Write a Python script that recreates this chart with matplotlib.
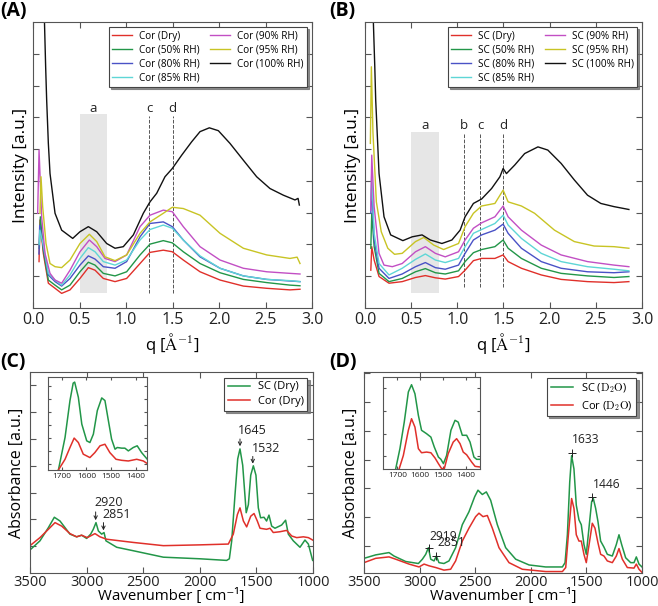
import matplotlib
matplotlib.use('Agg')
import matplotlib.pyplot as plt

plt.rcParams['font.family'] = ['Open Sans', 'DejaVu Sans']
plt.rcParams['mathtext.fontset'] = 'cm'

# colours for the humidity series
col = {'dry': '#e0302a', '50': '#229648', '80': '#4a52c6', '85': '#5ed6d6',
       '90': '#c24fc4', '95': '#c8c424', '100': '#111111'}

# ---------------- (A) corneocytes, SAXS ----------------
a_dry_q = [0.065, 0.075, 0.111, 0.165, 0.237, 0.308, 0.398, 0.505, 0.595, 0.667, 0.756, 0.882,
           1.007, 1.151, 1.258, 1.401, 1.498, 1.616, 1.796, 2.011, 2.262, 2.513, 2.763, 2.871]
a_dry_i = [1.46, 2.77, 1.72, 0.78, 0.62, 0.46, 0.57, 0.93, 1.27, 1.19, 0.93, 0.83,
           0.93, 1.40, 1.75, 1.82, 1.77, 1.51, 1.14, 0.88, 0.69, 0.62, 0.57, 0.59]
a_50_q = [0.068, 0.079, 0.111, 0.165, 0.237, 0.308, 0.398, 0.505, 0.595, 0.667, 0.756, 0.882,
          1.007, 1.151, 1.258, 1.401, 1.498, 1.616, 1.796, 2.011, 2.262, 2.513, 2.763, 2.871]
a_50_i = [1.88, 2.87, 1.82, 0.88, 0.72, 0.57, 0.72, 1.14, 1.44, 1.35, 1.09, 1.01,
          1.14, 1.67, 2.01, 2.12, 2.05, 1.77, 1.40, 1.11, 0.90, 0.80, 0.72, 0.70]
a_80_q = [0.064, 0.072, 0.111, 0.165, 0.237, 0.308, 0.398, 0.505, 0.595, 0.667, 0.756, 0.882,
          1.007, 1.151, 1.258, 1.401, 1.498, 1.616, 1.796, 2.011, 2.262, 2.513, 2.763, 2.871]
a_80_i = [1.70, 2.60, 1.93, 1.04, 0.83, 0.69, 0.93, 1.35, 1.64, 1.54, 1.30, 1.25,
          1.46, 2.24, 2.66, 2.71, 2.56, 2.14, 1.61, 1.25, 1.01, 0.90, 0.85, 0.83]
a_85_q = [0.066, 0.074, 0.111, 0.165, 0.237, 0.308, 0.398, 0.505, 0.595, 0.667, 0.756, 0.882,
          1.007, 1.151, 1.258, 1.401, 1.498, 1.616, 1.796, 2.011, 2.262, 2.513, 2.763, 2.871]
a_85_i = [2.00, 2.45, 1.98, 1.09, 0.88, 0.72, 1.04, 1.56, 1.90, 1.77, 1.46, 1.35,
          1.51, 2.14, 2.47, 2.61, 2.51, 2.14, 1.64, 1.25, 1.01, 0.90, 0.86, 0.83]
a_90_q = [0.050, 0.065, 0.093, 0.129, 0.183, 0.237, 0.308, 0.398, 0.505, 0.606, 0.685, 0.774, 0.882,
          1.007, 1.151, 1.258, 1.401, 1.498, 1.616, 1.796, 2.011, 2.262, 2.513, 2.763, 2.871]
a_90_i = [2.98, 4.97, 2.87, 1.72, 1.09, 0.88, 0.78, 1.19, 1.77, 2.14, 1.93, 1.56, 1.46,
          1.67, 2.56, 2.92, 3.08, 3.03, 2.56, 1.93, 1.51, 1.25, 1.14, 1.09, 1.07]
a_95_q = [0.075, 0.086, 0.104, 0.140, 0.183, 0.237, 0.308, 0.398, 0.505, 0.606, 0.685, 0.774, 0.882,
          1.007, 1.151, 1.258, 1.401, 1.498, 1.616, 1.796, 2.011, 2.262, 2.513, 2.763, 2.840, 2.871]
a_95_i = [2.98, 4.13, 3.19, 2.03, 1.40, 1.30, 1.27, 1.51, 2.03, 2.32, 2.09, 1.61, 1.49,
          1.67, 2.35, 2.71, 2.98, 3.17, 3.13, 2.92, 2.35, 1.88, 1.67, 1.56, 1.60, 1.40]
a_100_q = [0.118, 0.136, 0.147, 0.165, 0.183, 0.237, 0.308, 0.427, 0.505, 0.595, 0.685, 0.792, 0.882,
           0.971, 1.079, 1.186, 1.258, 1.330, 1.419, 1.498, 1.599, 1.706, 1.796, 1.896, 1.993,
           2.118, 2.262, 2.405, 2.548, 2.692, 2.817, 2.850, 2.864]
a_100_i = [9.6, 7.59, 6.54, 5.18, 4.23, 2.98, 2.45, 2.19, 2.40, 2.56, 2.40, 2.03, 1.88,
           1.93, 2.30, 2.98, 3.34, 3.61, 4.13, 4.39, 4.81, 5.23, 5.55, 5.67, 5.58,
           5.18, 4.65, 4.13, 3.76, 3.55, 3.40, 3.45, 3.24]

# ---------------- (B) SC, SAXS ----------------
b_q = [0.063, 0.073, 0.099, 0.152, 0.260, 0.403, 0.547, 0.654, 0.762, 0.869, 1.013, 1.084,
       1.174, 1.263, 1.407, 1.496, 1.550, 1.694, 1.909, 2.124, 2.410, 2.697, 2.858]
b_dry_i = [1.19, 1.93, 1.51, 0.99, 0.78, 0.83, 0.96, 1.02, 0.95, 0.91, 0.99, 1.19,
           1.49, 1.56, 1.56, 1.67, 1.46, 1.25, 1.04, 0.90, 0.83, 0.80, 0.83]
b_50_i = [1.88, 2.98, 1.93, 1.09, 0.83, 0.93, 1.14, 1.24, 1.11, 1.07, 1.17, 1.46,
          1.74, 1.84, 1.93, 2.14, 1.88, 1.56, 1.25, 1.09, 1.01, 0.96, 0.99]
b_80_i = [2.98, 3.82, 2.14, 1.25, 0.93, 1.07, 1.30, 1.43, 1.27, 1.22, 1.35, 1.72,
          2.14, 2.30, 2.45, 2.64, 2.35, 1.88, 1.46, 1.25, 1.14, 1.11, 1.14]
b_85_i = [3.40, 4.23, 2.35, 1.40, 1.04, 1.25, 1.53, 1.70, 1.51, 1.43, 1.56, 1.93,
          2.35, 2.47, 2.66, 2.92, 2.61, 2.19, 1.72, 1.46, 1.30, 1.22, 1.17]
b_90_q = [0.063, 0.073, 0.099, 0.152, 0.206, 0.296, 0.403, 0.547, 0.654, 0.762, 0.869, 1.013, 1.084,
          1.174, 1.263, 1.407, 1.496, 1.550, 1.694, 1.909, 2.124, 2.410, 2.697, 2.858]
b_90_i = [3.08, 4.81, 3.19, 1.72, 1.35, 1.30, 1.40, 1.77, 1.93, 1.72, 1.61, 1.77, 2.14,
          2.51, 2.68, 2.87, 3.21, 2.87, 2.45, 1.98, 1.67, 1.46, 1.35, 1.30]
b_95_q = [0.058, 0.069, 0.086, 0.123, 0.176, 0.247, 0.320, 0.403, 0.547, 0.636, 0.744, 0.851,
          1.013, 1.084, 1.174, 1.263, 1.407, 1.496, 1.550, 1.694, 1.837, 2.052, 2.267, 2.482,
          2.697, 2.858]
b_95_i = [5.18, 7.59, 5.54, 3.34, 2.40, 1.88, 1.69, 1.72, 2.09, 2.22, 1.98, 1.84,
          2.03, 2.56, 2.98, 3.21, 3.29, 3.71, 3.34, 3.21, 2.98, 2.45, 2.09, 1.95,
          1.93, 1.88]
b_100_q = [0.084, 0.106, 0.116, 0.152, 0.206, 0.278, 0.410, 0.511, 0.618, 0.708, 0.833, 0.941,
           1.030, 1.084, 1.174, 1.263, 1.371, 1.461, 1.496, 1.532, 1.622, 1.729, 1.873, 1.980,
           2.124, 2.267, 2.410, 2.554, 2.697, 2.805, 2.858]
b_100_i = [9.6, 7.59, 6.54, 4.23, 2.87, 2.30, 2.12, 2.24, 2.30, 2.14, 2.03, 2.14,
           2.45, 2.87, 3.29, 3.43, 3.76, 4.13, 4.39, 4.23, 4.50, 4.86, 5.07, 4.97,
           4.55, 4.03, 3.55, 3.29, 3.19, 3.13, 3.10]

# ---------------- (C) FTIR dry ----------------
c_sc_wn = [3500, 3412, 3338, 3285, 3235, 3147, 3088, 3044, 3000, 2964, 2941, 2917, 2896, 2867,
           2846, 2829, 2734, 2587, 2322, 1998, 1763, 1739, 1718, 1689, 1665, 1645, 1621, 1590,
           1571, 1550, 1527, 1504, 1483, 1463, 1433, 1410, 1389, 1365, 1336, 1277, 1242, 1218,
           1174, 1115, 1071, 1041, 1003]
c_sc_a = [0.86, 1.20, 1.69, 2.08, 1.94, 1.45, 1.35, 1.41, 1.29, 1.45, 1.63, 1.88, 1.57, 1.45,
          1.51, 1.20, 0.96, 0.83, 0.59, 0.53, 0.47, 0.53, 1.20, 2.92, 4.26, 4.63, 4.02, 2.25,
          2.55, 3.65, 4.00, 3.65, 2.43, 2.06, 2.08, 1.94, 2.16, 1.75, 1.67, 1.79, 1.97, 1.45,
          1.20, 0.96, 1.23, 1.08, 0.47]
c_cor_wn = [3500, 3412, 3338, 3279, 3220, 3147, 3088, 3044, 2994, 2926, 2882, 2823, 2587, 2322,
            1998, 1748, 1704, 1668, 1645, 1615, 1586, 1550, 1521, 1492, 1468, 1410, 1380, 1351,
            1292, 1233, 1188, 1144, 1085, 1041, 1003]
c_cor_a = [1.02, 1.32, 1.63, 1.88, 1.75, 1.47, 1.35, 1.41, 1.32, 1.47, 1.35, 1.26, 1.14, 1.02,
           1.05, 1.08, 1.45, 2.18, 2.43, 1.94, 1.72, 2.12, 2.22, 1.94, 1.67, 1.63, 1.67, 1.51,
           1.54, 1.59, 1.38, 1.32, 1.35, 1.32, 1.23]
ci_sc_wn = [1714, 1687, 1667, 1654, 1648, 1633, 1619, 1599, 1586, 1572, 1556, 1538, 1525, 1511,
            1498, 1484, 1475, 1457, 1444, 1430, 1410, 1394, 1376, 1353]
ci_sc_a = [0.56, 3.05, 5.87, 7.20, 7.28, 6.12, 4.07, 2.79, 2.66, 3.30, 5.10, 6.07, 5.87, 4.33,
           2.92, 2.15, 2.28, 2.23, 2.23, 2.02, 2.28, 2.41, 1.89, 1.38]
ci_cor_wn = [1714, 1687, 1667, 1650, 1633, 1613, 1586, 1566, 1545, 1525, 1505, 1480, 1457, 1430,
             1396, 1369, 1353]
ci_cor_a = [0.56, 1.38, 2.28, 3.00, 2.66, 1.77, 1.51, 1.89, 2.41, 2.53, 1.89, 1.38, 1.30, 1.25,
            1.38, 1.25, 1.05]

# ---------------- (D) FTIR D2O ----------------
d_sc_wn = [3500, 3395, 3275, 3230, 3125, 3011, 2975, 2945, 2921, 2900, 2870, 2849, 2826, 2781,
           2736, 2676, 2616, 2556, 2505, 2475, 2436, 2400, 2361, 2301, 2226, 2136, 2016, 1866,
           1716, 1692, 1671, 1650, 1633, 1612, 1591, 1567, 1546, 1522, 1501, 1477, 1453, 1438,
           1417, 1396, 1372, 1342, 1312, 1267, 1231, 1207, 1183, 1147, 1102, 1072, 1051, 1027, 1000]
d_sc_a = [0.57, 0.69, 0.77, 0.65, 0.46, 0.39, 0.54, 0.71, 0.94, 0.54, 0.48, 0.65, 0.42, 0.39,
          0.48, 0.94, 1.74, 2.19, 2.71, 2.94, 2.79, 2.88, 2.59, 1.74, 0.94, 0.54, 0.34, 0.27,
          0.27, 0.42, 1.39, 3.22, 4.14, 3.68, 2.42, 1.91, 1.74, 1.05, 0.71, 1.62, 2.54, 2.65,
          2.31, 1.85, 1.17, 0.96, 0.71, 0.65, 1.05, 1.39, 1.05, 0.59, 0.42, 0.42, 0.62, 0.37, 0.27]
d_cor_wn = [3500, 3395, 3275, 3215, 3095, 3005, 2960, 2915, 2855, 2781, 2721, 2676, 2616, 2556,
            2496, 2466, 2430, 2391, 2346, 2286, 2196, 2076, 1866, 1716, 1686, 1662, 1633, 1612,
            1591, 1567, 1546, 1522, 1501, 1471, 1447, 1423, 1396, 1372, 1342, 1312, 1267, 1231,
            1207, 1177, 1132, 1072, 1051, 1027, 1000]
d_cor_a = [0.42, 0.57, 0.62, 0.54, 0.37, 0.27, 0.37, 0.31, 0.25, 0.16, 0.19, 0.48, 1.17, 1.62,
           2.02, 2.14, 2.02, 2.06, 1.62, 0.94, 0.42, 0.19, 0.11, 0.11, 0.25, 1.39, 2.65, 2.31,
           1.39, 1.17, 1.17, 0.71, 0.42, 1.17, 1.79, 1.62, 1.11, 0.71, 0.65, 0.48, 0.42, 0.65,
           0.91, 0.54, 0.25, 0.23, 0.37, 0.19, 0.08]
di_sc_wn = [1708, 1689, 1670, 1652, 1638, 1623, 1608, 1594, 1572, 1553, 1538, 1520, 1509, 1498,
            1484, 1465, 1447, 1433, 1415, 1396, 1381, 1364, 1352, 1336]
di_sc_a = [0.43, 1.34, 2.51, 3.84, 4.16, 3.76, 2.81, 2.15, 2.00, 1.85, 1.41, 0.97, 0.87, 0.68,
           1.04, 2.15, 2.59, 2.51, 1.93, 1.93, 1.63, 0.97, 0.87, 0.87]
di_cor_wn = [1693, 1674, 1652, 1638, 1623, 1608, 1594, 1572, 1553, 1535, 1520, 1506, 1494, 1477,
             1455, 1440, 1425, 1411, 1396, 1374, 1359, 1336]
di_cor_a = [0.43, 1.04, 2.15, 2.66, 2.29, 1.34, 1.16, 1.19, 1.16, 0.93, 0.68, 0.46, 0.46, 1.12,
            1.63, 1.78, 1.56, 1.19, 1.07, 0.75, 0.56, 0.53]

c_peaks = [1645, 1532, 2920, 2851]
d_peaks = [1633, 1446, 2919, 2851]

SPINE = '#555555'


def style(ax, labelsize=11, pad=3):
    for s in ax.spines.values():
        s.set_color(SPINE)
    ax.tick_params(direction='in', top=True, right=True, colors=SPINE,
                   labelcolor='#222222', labelsize=labelsize, length=4, pad=pad)
    ax.tick_params(axis='y', labelleft=False)


def legend(ax, ncol=1, fs=7.2):
    lg = ax.legend(loc='upper right', ncol=ncol, fontsize=fs, fancybox=False,
                   shadow={'ox': 1.5, 'oy': -1.5, 'color': '0.45', 'alpha': 0.8},
                   framealpha=1, edgecolor='#444444', handlelength=2.0,
                   columnspacing=1.0, labelspacing=0.3, borderpad=0.35, handletextpad=0.7)
    lg.get_frame().set_linewidth(0.8)
    return lg


fig = plt.figure(figsize=(6.58, 6.06), dpi=100)
W, H = 658, 606


def box(l, t, r, b):
    return [l / W, 1 - b / H, (r - l) / W, (b - t) / H]


axA = fig.add_axes(box(33, 22, 312, 308))
axB = fig.add_axes(box(365, 22, 642, 308))
axC = fig.add_axes(box(30, 372, 313, 573))
axD = fig.add_axes(box(364, 372, 642, 573))

# ---- A ----
ax = axA
ax.fill_between([0.5, 0.8], 0.48, 6.10, color='#e6e6e6', lw=0, zorder=0)
ax.vlines([1.25, 1.5], 0.46, 6.05, colors='#555555', linestyles='--', lw=0.7)
for x, t in zip([0.65, 1.25, 1.5], ['a', 'c', 'd']):
    ax.text(x, 6.08, t, ha='center', va='bottom', fontsize=9.5, color='#222222')
ax.plot(a_dry_q, a_dry_i, color=col['dry'], lw=1, label='Cor (Dry)')
ax.plot(a_50_q, a_50_i, color=col['50'], lw=1, label='Cor (50% RH)')
ax.plot(a_80_q, a_80_i, color=col['80'], lw=1, label='Cor (80% RH)')
ax.plot(a_85_q, a_85_i, color=col['85'], lw=1, label='Cor (85% RH)')
ax.plot(a_90_q, a_90_i, color=col['90'], lw=1, label='Cor (90% RH)')
ax.plot(a_95_q, a_95_i, color=col['95'], lw=1, label='Cor (95% RH)')
ax.plot(a_100_q, a_100_i, color=col['100'], lw=1, label='Cor (100% RH)')

# ---- B ----
ax = axB
ax.fill_between([0.5, 0.8], 0.48, 5.55, color='#e6e6e6', lw=0, zorder=0)
ax.vlines([1.07, 1.25, 1.5], 0.67, 5.50, colors='#555555', linestyles='--', lw=0.7)
for x, t in zip([0.65, 1.07, 1.25, 1.5], ['a', 'b', 'c', 'd']):
    ax.text(x, 5.53, t, ha='center', va='bottom', fontsize=9.5, color='#222222')
ax.plot(b_q, b_dry_i, color=col['dry'], lw=1, label='SC (Dry)')
ax.plot(b_q, b_50_i, color=col['50'], lw=1, label='SC (50% RH)')
ax.plot(b_q, b_80_i, color=col['80'], lw=1, label='SC (80% RH)')
ax.plot(b_q, b_85_i, color=col['85'], lw=1, label='SC (85% RH)')
ax.plot(b_90_q, b_90_i, color=col['90'], lw=1, label='SC (90% RH)')
ax.plot(b_95_q, b_95_i, color=col['95'], lw=1, label='SC (95% RH)')
ax.plot(b_100_q, b_100_i, color=col['100'], lw=1, label='SC (100% RH)')

for ax in (axA, axB):
    ax.set_xlim(0, 3)
    ax.set_ylim(0, 9)
    ax.set_xticks([0, 0.5, 1, 1.5, 2, 2.5, 3])
    ax.set_xticklabels(['0.0', '0.5', '1.0', '1.5', '2.0', '2.5', '3.0'])
    ax.set_yticks(range(1, 9))
    style(ax, labelsize=11.5)
    ax.set_xlabel(r'q [$\mathrm{\AA}^{-1}$]', fontsize=12, labelpad=2)
    ax.set_ylabel('Intensity [a.u.]', fontsize=12.5, labelpad=3)
    legend(ax, ncol=2)

# ---- C ----
ax = axC
ax.plot(c_sc_wn, c_sc_a, color=col['50'], lw=1.1, label='SC (Dry)')
ax.plot(c_cor_wn, c_cor_a, color=col['dry'], lw=1.1, label='Cor (Dry)')
ax.set_ylim(0, 7.5)
ax.set_yticks(range(1, 8))
c_text = {1645: (1660, 5.06, 5.0, 4.73), 1532: (1541, 4.42, 4.35, 4.08),
          2920: (2935, 2.37, 2.28, 1.97), 2851: (2858, 1.94, 1.88, 1.59)}
for p in c_peaks:
    tx, ty, y0, y1 = c_text[p]
    ax.annotate('', xy=(p, y1), xytext=(p, y0),
                arrowprops=dict(arrowstyle='->', lw=0.7, color='#222222',
                                shrinkA=0, shrinkB=0, mutation_scale=6))
    ax.text(tx, ty, str(p), ha='left', va='bottom', fontsize=9, color='#222222')

# ---- D ----
ax = axD
ax.plot(d_sc_wn, d_sc_a, color=col['50'], lw=1.1, label=r'SC ($\mathrm{D_2O}$)')
ax.plot(d_cor_wn, d_cor_a, color=col['dry'], lw=1.1, label=r'Cor ($\mathrm{D_2O}$)')
ax.set_ylim(0.06, 7.05)
ax.set_yticks(range(1, 8))
d_text = {1633: (1627, 4.46, 4.25), 1446: (1443, 2.90, 2.71),
          2919: (2915, 1.11, 0.94), 2851: (2840, 0.88, 0.65)}
for p in d_peaks:
    tx, ty, my = d_text[p]
    ax.plot([p], [my], marker='+', ms=5.5, mew=0.7, color='#222222', ls='none')
    ax.text(tx, ty, str(p), ha='left', va='bottom', fontsize=8.7, color='#222222')

for ax in (axC, axD):
    ax.set_xlim(3500, 1000)
    ax.set_xticks([3500, 3000, 2500, 2000, 1500, 1000])
    style(ax, labelsize=10.5, pad=1.5)
    ax.set_xlabel('Wavenumber [ cm\u207b\u00b9]', fontsize=10.8, labelpad=-1.5)
    ax.set_ylabel('Absorbance [a.u.]', fontsize=11.5, labelpad=4)
    legend(ax, fs=8)

# ---- insets ----
inC = fig.add_axes(box(48.3, 377, 147.3, 470))
inC.plot(ci_sc_wn, ci_sc_a, color=col['50'], lw=1.1)
inC.plot(ci_cor_wn, ci_cor_a, color=col['dry'], lw=1.1)
inC.set_xlim(1755, 1353)
inC.set_ylim(0.56, 7.67)
inC.set_yticks(range(1, 8))

inD = fig.add_axes(box(383.3, 377, 480.3, 469.3))
inD.plot(di_sc_wn, di_sc_a, color=col['50'], lw=1.1)
inD.plot(di_cor_wn, di_cor_a, color=col['dry'], lw=1.1)
inD.set_xlim(1762, 1336)
inD.set_ylim(0.43, 4.5)
inD.set_yticks(range(1, 5))

for ax in (inC, inD):
    ax.set_xticks([1700, 1600, 1500, 1400])
    style(ax, labelsize=6)
    ax.tick_params(length=2.5, pad=2)

# panel letters
for x, y, t in [(0.0, 11, '(A)'), (329 / W, 11, '(B)'), (0.0, 362, '(C)'), (329 / W, 362, '(D)')]:
    fig.text(x, 1 - y / H, t, fontsize=14, fontweight='bold', ha='left', va='center')

fig.savefig('out.png', dpi=100)
